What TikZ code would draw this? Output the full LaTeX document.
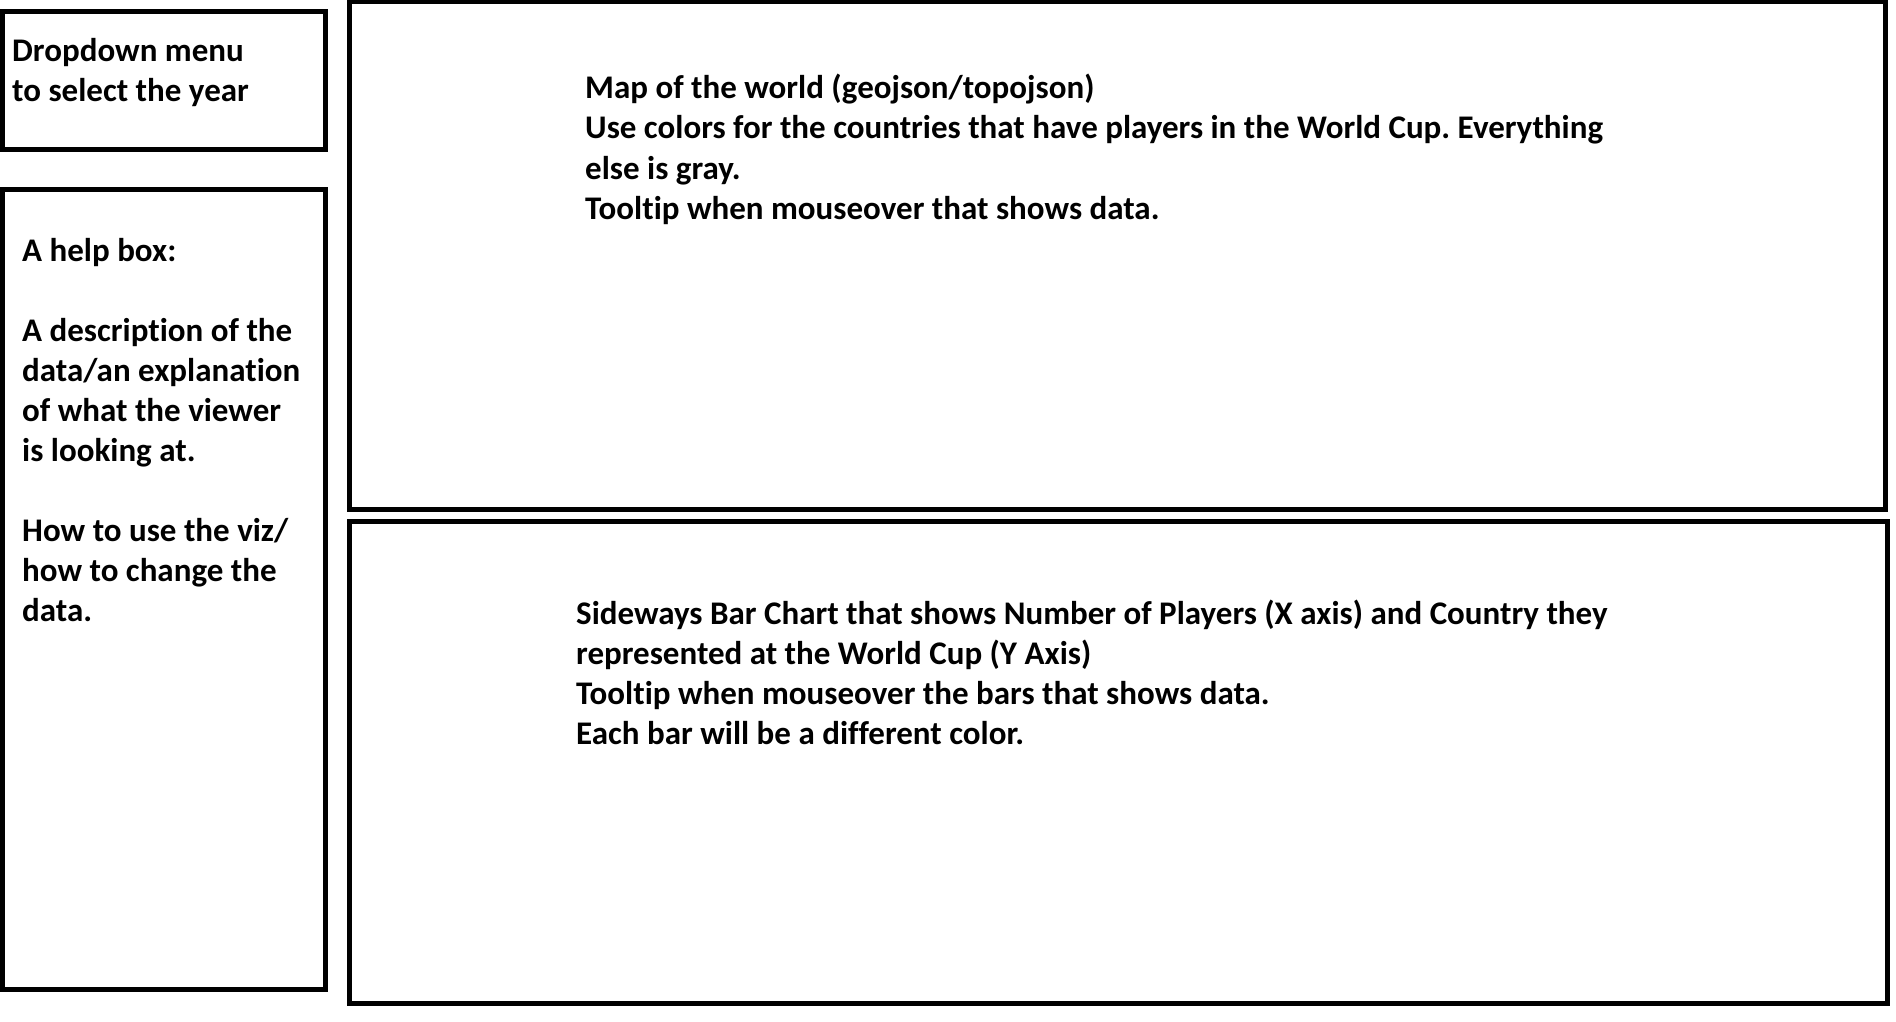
\documentclass[tikz,border=0pt]{standalone}
\usepackage{fontspec}
\setmainfont[Ligatures=NoCommon]{Carlito}
\frenchspacing
\tikzset{
  frame/.style={draw=black, line width=5pt, inner sep=0pt, outer sep=0pt},
  txt/.style={anchor=base west, inner sep=0pt, font=\bfseries\fontsize{33}{40}\selectfont}
}
\begin{document}
\frenchspacing
\begin{tikzpicture}[x=1pt,y=-1pt]
\useasboundingbox (0,0) rectangle (1896,1022);
\node[frame, minimum width=323.5pt, minimum height=138pt] (dropdown) at (163.75,80.5) {};
\node[frame, minimum width=323.5pt, minimum height=800pt] (help) at (163.75,589.5) {};
\node[frame, minimum width=1536pt, minimum height=507.5pt] (map) at (1117.5,255.75) {};
\node[frame, minimum width=1538pt, minimum height=482pt] (bar) at (1118.5,762.5) {};
% dropdown text
\node[txt] (d1) at (12,62) {Dropdown menu};
\node[txt] (d2) at (12,102) {to select the year};
% help text
\node[txt] (h1) at (22,261) {A help box:};
\node[txt] (h2) at (22,341) {A description of the};
\node[txt] (h3) at (22,381) {data/an explanation};
\node[txt] (h4) at (22,421) {of what the viewer};
\node[txt] (h5) at (22,461) {is looking at.};
\node[txt] (h6) at (22,541) {How to use the viz/};
\node[txt] (h7) at (22,581) {how to change the};
\node[txt] (h8) at (22,621) {data.};
% map text
\node[txt] (m1) at (585,99) {Map of the world (geojson/topojson)};
\node[txt] (m2) at (585,139) {Use colors for the countries that have players in the World Cup. Everything};
\node[txt] (m3) at (585,179) {else is gray.};
\node[txt] (m4) at (585,219) {Tooltip when mouseover that shows data.};
% bar text
\node[txt] (b1) at (576,624) {Sideways Bar Chart that shows Number of Players (X axis) and Country they};
\node[txt] (b2) at (576,664) {represented at the World Cup (Y Axis)};
\node[txt] (b3) at (576,704) {Tooltip when mouseover the bars that shows data.};
\node[txt] (b4) at (576,744) {Each bar will be a different color.};
\end{tikzpicture}
\end{document}
